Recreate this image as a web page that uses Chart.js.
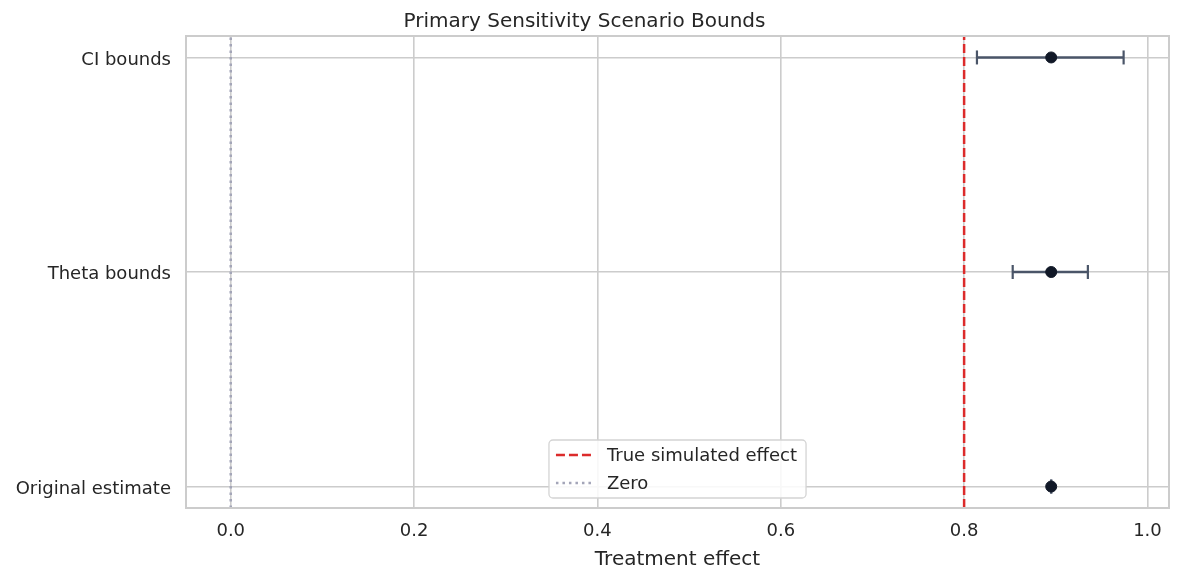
<!DOCTYPE html>
<html>
<head>
<meta charset="utf-8">
<script src="https://cdn.jsdelivr.net/npm/chart.js@4.4.1/dist/chart.umd.min.js"></script>
<style>
  html, body { margin: 0; padding: 0; background: #ffffff; }
  #wrap { width: 1180px; height: 580px; }
</style>
</head>
<body>
<div id="wrap"><canvas id="c" width="1180" height="580"></canvas></div>
<script>
// ---- data ----
const categories = ['Original estimate', 'Theta bounds', 'CI bounds'];
const estimates = [0.895, 0.895, 0.895];
const lowerBounds = [0.895, 0.853, 0.814];
const upperBounds = [0.895, 0.935, 0.974];
const trueEffect = 0.8;
const zeroValue = 0.0;
const xTickValues = [0.0, 0.2, 0.4, 0.6, 0.8, 1.0];
const yTickValues = [0, 1, 2];
const xRange = [-0.0488, 1.0235];
const yRange = [-0.1, 2.1];
const legendLabels = ['True simulated effect', 'Zero'];

// ---- styles ----
const TEXT = '#262626';
const GRID = '#cccccc';
const RED = '#dc2b2b';
const ZERO = '#a3a5b8';
const BAR = '#4a5568';
const DOT = '#111827';
const FONT = 'DejaVu Sans';

Chart.defaults.font.family = FONT;
Chart.defaults.color = TEXT;

const errorDatasets = categories.map((c, i) => ({
  type: 'line',
  label: c + ' interval',
  data: [{x: lowerBounds[i], y: i}, {x: upperBounds[i], y: i}],
  borderColor: BAR,
  borderWidth: 2.5,
  pointStyle: 'line',
  rotation: 90,
  pointRadius: 7,
  pointBorderWidth: 2.2,
  pointBorderColor: BAR,
  pointHoverRadius: 7,
  order: 2
}));

const refDatasets = [
  {
    type: 'line',
    label: legendLabels[0],
    data: [{x: trueEffect, y: yRange[0]}, {x: trueEffect, y: yRange[1]}],
    borderColor: RED,
    borderWidth: 2.5,
    borderDash: [9, 4],
    pointRadius: 0,
    order: 3
  },
  {
    type: 'line',
    label: legendLabels[1],
    data: [{x: zeroValue, y: yRange[0]}, {x: zeroValue, y: yRange[1]}],
    borderColor: ZERO,
    borderWidth: 2.5,
    borderDash: [2.5, 4],
    pointRadius: 0,
    order: 3
  }
];

const pointDataset = {
  type: 'scatter',
  label: 'Estimate',
  data: categories.map((c, i) => ({x: estimates[i], y: i})),
  backgroundColor: DOT,
  borderColor: DOT,
  pointRadius: 5.5,
  pointHoverRadius: 5.5,
  order: 1
};

const frameAndLegend = {
  id: 'frameAndLegend',
  afterDatasetsDraw(chart) {
    const ctx = chart.ctx;
    const a = chart.chartArea;
    ctx.save();
    ctx.strokeStyle = GRID;
    ctx.lineWidth = 2;
    ctx.strokeRect(a.left, a.top, a.right - a.left, a.bottom - a.top);

    // legend
    ctx.font = '18px "' + FONT + '"';
    const tw = Math.max(...legendLabels.map(t => ctx.measureText(t).width));
    const w = 58 + tw + 9;
    const h = 58;
    const cx = (a.left + a.right) / 2;
    const x0 = cx - w / 2;
    const y0 = a.bottom - 10 - h;
    const r = 4;
    ctx.beginPath();
    ctx.moveTo(x0 + r, y0);
    ctx.lineTo(x0 + w - r, y0);
    ctx.arcTo(x0 + w, y0, x0 + w, y0 + r, r);
    ctx.lineTo(x0 + w, y0 + h - r);
    ctx.arcTo(x0 + w, y0 + h, x0 + w - r, y0 + h, r);
    ctx.lineTo(x0 + r, y0 + h);
    ctx.arcTo(x0, y0 + h, x0, y0 + h - r, r);
    ctx.lineTo(x0, y0 + r);
    ctx.arcTo(x0, y0, x0 + r, y0, r);
    ctx.closePath();
    ctx.fillStyle = 'rgba(255,255,255,0.85)';
    ctx.fill();
    ctx.strokeStyle = '#d4d4d4';
    ctx.lineWidth = 1.3;
    ctx.stroke();

    const rows = [
      {label: legendLabels[0], color: RED, dash: [9, 4]},
      {label: legendLabels[1], color: ZERO, dash: [2.5, 4]}
    ];
    rows.forEach((row, k) => {
      const yy = y0 + 15 + k * 28;
      ctx.beginPath();
      ctx.setLineDash(row.dash);
      ctx.strokeStyle = row.color;
      ctx.lineWidth = 2.5;
      ctx.moveTo(x0 + 7, yy);
      ctx.lineTo(x0 + 43, yy);
      ctx.stroke();
      ctx.setLineDash([]);
      ctx.fillStyle = TEXT;
      ctx.textAlign = 'left';
      ctx.textBaseline = 'middle';
      ctx.fillText(row.label, x0 + 58, yy + 1);
    });
    ctx.restore();
  }
};

new Chart(document.getElementById('c'), {
  type: 'scatter',
  data: { datasets: [...refDatasets, ...errorDatasets, pointDataset] },
  options: {
    responsive: false,
    devicePixelRatio: 1,
    animation: false,
    events: [],
    layout: { padding: { left: 0, right: 11, top: 0, bottom: 0 } },
    plugins: {
      legend: { display: false },
      tooltip: { enabled: false },
      title: {
        display: true,
        text: 'Primary Sensitivity Scenario Bounds',
        color: TEXT,
        font: { size: 20, weight: 'normal', family: FONT },
        padding: { top: 10, bottom: 2 }
      }
    },
    scales: {
      x: {
        type: 'linear',
        min: xRange[0],
        max: xRange[1],
        afterBuildTicks(scale) { scale.ticks = xTickValues.map(v => ({value: v})); },
        afterFit(scale) { scale.height = 72; },
        ticks: {
          font: { size: 18, family: FONT },
          color: TEXT,
          padding: 13,
          callback: v => Number(v).toFixed(1)
        },
        grid: { color: GRID, lineWidth: 1.6, drawTicks: false },
        border: { display: false },
        title: {
          display: true,
          text: 'Treatment effect',
          color: TEXT,
          font: { size: 20, family: FONT },
          padding: { top: 0, bottom: 8 }
        }
      },
      y: {
        type: 'linear',
        min: yRange[0],
        max: yRange[1],
        afterBuildTicks(scale) { scale.ticks = yTickValues.map(v => ({value: v})); },
        afterFit(scale) { scale.width = 186; },
        ticks: {
          font: { size: 18, family: FONT },
          color: TEXT,
          padding: 15,
          labelOffset: 2.5,
          callback: v => categories[Math.round(v)]
        },
        grid: { color: GRID, lineWidth: 1.6, drawTicks: false },
        border: { display: false }
      }
    }
  },
  plugins: [frameAndLegend]
});
</script>
</body>
</html>
